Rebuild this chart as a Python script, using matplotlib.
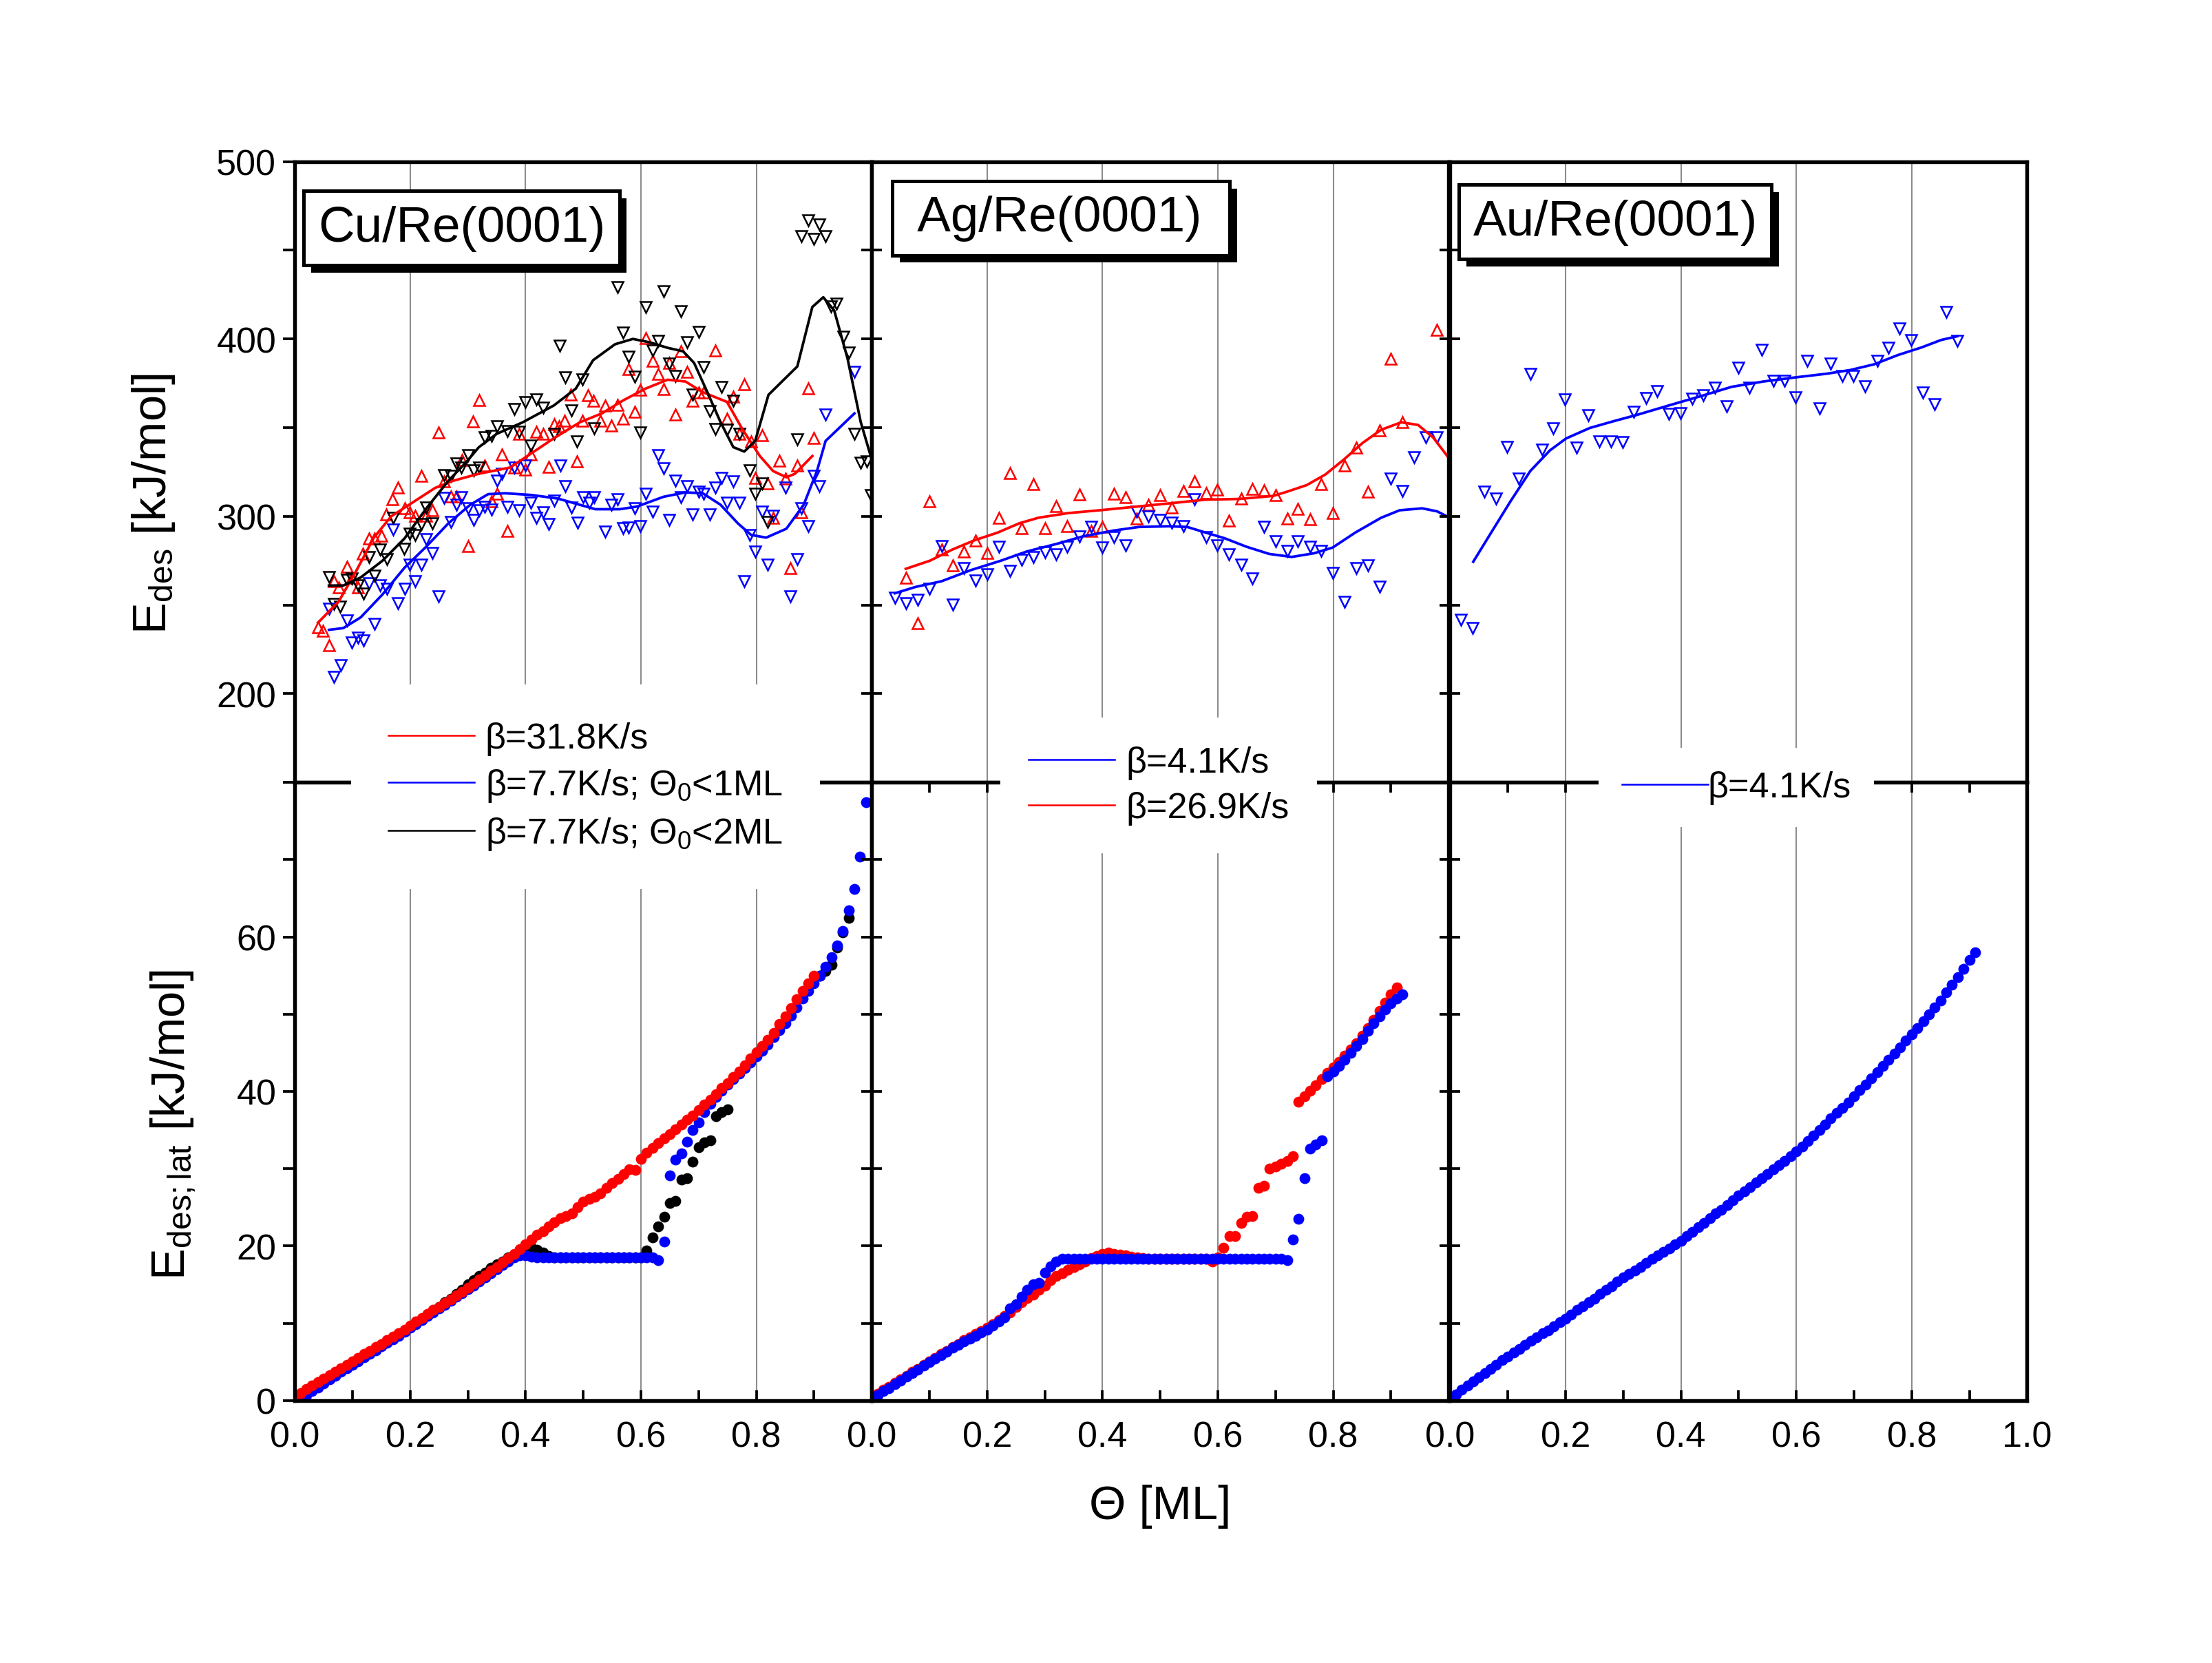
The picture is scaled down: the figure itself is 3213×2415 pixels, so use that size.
import matplotlib
matplotlib.use('Agg')
import matplotlib.pyplot as plt
import matplotlib.patheffects as pe
from matplotlib.lines import Line2D

plt.rcParams['font.family'] = ['Liberation Sans', 'DejaVu Sans']
plt.rcParams['mathtext.fontset'] = 'custom'
plt.rcParams['mathtext.rm'] = 'Liberation Sans'
plt.rcParams['mathtext.it'] = 'Liberation Sans:italic'
plt.rcParams['mathtext.bf'] = 'Liberation Sans:bold'

# ---------------- top row: E_des vs coverage ----------------
# Cu/Re(0001), beta = 31.8 K/s (up triangles + smoothed line)
cu_red_tx = [0.040, 0.049, 0.059, 0.068, 0.076, 0.090, 0.099, 0.110, 0.118, 0.128, 0.138, 0.150, 0.158, 0.169,
             0.179, 0.190, 0.199, 0.209, 0.219, 0.228, 0.238, 0.249, 0.259, 0.270, 0.280, 0.290, 0.300, 0.309,
             0.319, 0.329, 0.341, 0.350, 0.359, 0.369, 0.380, 0.389, 0.399, 0.409, 0.418, 0.430, 0.440, 0.449,
             0.458, 0.468, 0.478, 0.489, 0.499, 0.508, 0.517, 0.529, 0.538, 0.549, 0.559, 0.569, 0.578, 0.589,
             0.599, 0.608, 0.620, 0.630, 0.639, 0.649, 0.660, 0.669, 0.680, 0.690, 0.700, 0.709, 0.729, 0.749,
             0.760, 0.770, 0.779, 0.791, 0.798, 0.810, 0.820, 0.829, 0.840, 0.850, 0.859, 0.871, 0.878, 0.890,
             0.899]
cu_red_ty = [237.4, 235.3, 227.5, 263.3, 260.1, 271.7, 265.4, 260.1, 279.1, 287.5, 287.5, 289.2, 301.2, 309.7,
             316.4, 304.4, 302.3, 300.2, 322.7, 300.2, 303.3, 347.2, 319.6, 311.1, 311.1, 331.8, 283.3, 353.3,
             365.5, 328.6, 308.6, 312.8, 334.9, 291.8, 327.6, 346.6, 326.5, 334.9, 347.6, 346.6, 328.0, 351.8,
             350.8, 353.9, 368.7, 330.8, 353.9, 368.1, 365.1, 353.7, 362.4, 351.2, 362.8, 355.0, 382.8, 358.8,
             371.4, 400.3, 387.7, 380.3, 371.9, 386.6, 357.5, 392.9, 381.3, 365.1, 369.7, 369.7, 393.4, 355.0,
             367.6, 346.6, 374.4, 342.3, 321.7, 345.9, 318.7, 299.1, 331.4, 321.3, 270.7, 328.6, 302.3, 372.3,
             344.0]
cu_red_cx = [0.040, 0.076, 0.106, 0.137, 0.167, 0.198, 0.243, 0.274, 0.319, 0.373, 0.403, 0.449, 0.494, 0.532,
             0.570, 0.608, 0.646, 0.677, 0.707, 0.749, 0.776, 0.806, 0.829, 0.852, 0.867, 0.897]
cu_red_cy = [240, 252, 269, 288, 300, 306.5, 316, 320, 324, 327.5, 334, 344, 353, 358, 365.5, 372, 377, 376, 370,
             364.5, 349, 334, 325.5, 322, 324, 334]

# Cu/Re(0001), beta = 7.7 K/s, Theta0 < 1 ML
cu_blue_tx = [0.059, 0.068, 0.080, 0.090, 0.099, 0.109, 0.119, 0.129, 0.138, 0.148, 0.160, 0.170, 0.179, 0.190,
              0.199, 0.209, 0.219, 0.228, 0.238, 0.249, 0.259, 0.270, 0.280, 0.289, 0.300, 0.310, 0.319, 0.329,
              0.341, 0.350, 0.359, 0.369, 0.380, 0.389, 0.399, 0.409, 0.418, 0.430, 0.440, 0.449, 0.460, 0.469,
              0.479, 0.490, 0.500, 0.510, 0.519, 0.538, 0.549, 0.559, 0.569, 0.579, 0.589, 0.599, 0.608, 0.620,
              0.630, 0.639, 0.649, 0.660, 0.669, 0.680, 0.690, 0.700, 0.709, 0.719, 0.729, 0.739, 0.749, 0.760,
              0.770, 0.779, 0.789, 0.798, 0.810, 0.820, 0.829, 0.850, 0.859, 0.871, 0.878, 0.890, 0.899, 0.909,
              0.920, 0.970]
cu_blue_ty = [247.9, 209.5, 215.9, 241.2, 228.9, 231.7, 230.0, 262.2, 239.5, 261.2, 259.1, 292.4, 251.1, 259.1,
              272.8, 263.3, 272.8, 287.1, 279.5, 254.9, 310.3, 297.0, 306.5, 310.7, 304.4, 298.1, 303.3, 305.5,
              303.8, 320.2, 323.8, 305.5, 327.6, 303.3, 328.6, 307.6, 299.1, 302.3, 295.5, 309.0, 328.6, 317.1,
              304.8, 296.4, 310.7, 307.6, 310.7, 291.3, 306.5, 309.7, 293.2, 293.9, 304.4, 294.3, 312.8, 302.7,
              334.3, 327.0, 298.1, 320.2, 310.7, 317.1, 301.2, 313.9, 312.8, 301.2, 316.4, 321.7, 307.6, 319.6,
              307.6, 263.3, 289.6, 280.2, 302.7, 272.8, 300.2, 316.4, 254.9, 275.9, 304.4, 294.3, 323.0, 317.1,
              357.5, 381.6]
cu_blue_cx = [0.059, 0.084, 0.114, 0.152, 0.190, 0.228, 0.266, 0.304, 0.335, 0.365, 0.411, 0.456, 0.494, 0.521,
              0.563, 0.593, 0.639, 0.677, 0.707, 0.738, 0.768, 0.791, 0.817, 0.852, 0.882, 0.905, 0.920, 0.970]
cu_blue_cy = [236, 237, 243, 256, 271, 283, 296, 306.5, 312.5, 313, 312, 310, 306.5, 304, 304, 305.5, 311, 313.5,
              313, 306.5, 296, 289.5, 288, 293, 306.5, 325.5, 342.5, 358]

# Cu/Re(0001), beta = 7.7 K/s, Theta0 < 2 ML
cu_black_tx = [0.059, 0.068, 0.078, 0.090, 0.099, 0.109, 0.119, 0.129, 0.138, 0.148, 0.160, 0.170, 0.189, 0.199,
               0.209, 0.219, 0.228, 0.238, 0.259, 0.270, 0.280, 0.289, 0.300, 0.310, 0.319, 0.329, 0.341, 0.350,
               0.369, 0.380, 0.389, 0.399, 0.409, 0.418, 0.430, 0.449, 0.459, 0.469, 0.479, 0.489, 0.499, 0.519,
               0.559, 0.569, 0.579, 0.589, 0.599, 0.608, 0.620, 0.630, 0.639, 0.649, 0.660, 0.669, 0.680, 0.690,
               0.700, 0.709, 0.719, 0.729, 0.739, 0.749, 0.760, 0.770, 0.789, 0.798, 0.810, 0.820, 0.871, 0.878,
               0.890, 0.899, 0.909, 0.920, 0.929, 0.939, 0.951, 0.960, 0.970, 0.981, 0.991, 0.998]
cu_black_ty = [265.8, 250.6, 249.2, 264.4, 264.8, 261.2, 256.3, 277.0, 266.5, 281.2, 275.9, 299.1, 281.6, 290.1,
               289.6, 295.5, 305.0, 296.0, 323.4, 322.9, 329.7, 327.6, 334.3, 325.9, 327.6, 344.4, 345.5, 350.8,
               348.0, 360.3, 347.6, 364.5, 339.8, 366.0, 361.3, 346.6, 396.1, 378.2, 359.8, 342.3, 377.1, 349.7,
               429.2, 403.5, 389.8, 378.6, 347.2, 417.8, 393.4, 398.8, 426.7, 386.2, 379.2, 415.7, 398.2, 368.7,
               403.9, 384.1, 359.2, 349.3, 372.9, 348.7, 365.1, 346.6, 325.9, 312.8, 318.7, 297.0, 343.4, 457.9,
               466.7, 456.2, 464.6, 457.9, 418.2, 419.9, 401.4, 392.5, 346.6, 330.1, 330.8, 311.8]
cu_black_cx = [0.059, 0.084, 0.114, 0.152, 0.190, 0.228, 0.266, 0.297, 0.319, 0.350, 0.395, 0.449, 0.487, 0.517,
               0.555, 0.586, 0.616, 0.646, 0.673, 0.692, 0.715, 0.738, 0.760, 0.779, 0.798, 0.821, 0.871, 0.897,
               0.916, 0.935, 0.958, 0.981, 1.000]
cu_black_cy = [261, 261, 265.5, 275, 287.5, 304.5, 320, 330.5, 339, 346.5, 353, 362.5, 372, 388, 397, 400, 398,
               395, 393, 386.5, 370, 353, 339, 336.5, 342.5, 368.5, 384.5, 418, 423.5, 416, 389, 353, 332]

# Ag/Re(0001), beta = 26.9 K/s
ag_red_tx = [0.059, 0.080, 0.100, 0.121, 0.140, 0.160, 0.180, 0.200, 0.220, 0.240, 0.260, 0.280, 0.300, 0.320,
             0.339, 0.360, 0.380, 0.400, 0.420, 0.440, 0.459, 0.480, 0.500, 0.520, 0.540, 0.560, 0.580, 0.599,
             0.619, 0.640, 0.660, 0.680, 0.700, 0.720, 0.739, 0.760, 0.779, 0.799, 0.820, 0.840, 0.860, 0.880,
             0.900, 0.920, 0.980]
ag_red_ty = [265.5, 239.8, 308.3, 281.3, 272.5, 280.3, 286.2, 279.2, 299.2, 324.3, 293.3, 318.0, 293.5, 305.6,
             294.6, 312.5, 291.9, 294.0, 312.9, 310.8, 298.8, 306.6, 311.9, 304.9, 314.4, 319.7, 313.3, 315.0,
             297.5, 310.2, 315.5, 314.6, 311.9, 298.8, 304.1, 298.2, 318.2, 301.8, 328.7, 338.9, 314.0, 348.3,
             388.8, 353.0, 405.0]
ag_red_cx = [0.059, 0.101, 0.140, 0.179, 0.218, 0.256, 0.289, 0.340, 0.398, 0.463, 0.528, 0.579, 0.637, 0.696,
             0.721, 0.754, 0.786, 0.818, 0.851, 0.883, 0.918, 0.947, 0.973, 1.000]
ag_red_cy = [270.4, 275, 281.3, 286.6, 290.8, 296.1, 299.2, 301.8, 303.5, 305.6, 307.7, 309.4, 309.8, 311.5, 314,
             317.6, 323.5, 331.9, 341.4, 348.8, 353, 351.5, 344.5, 333]

# Ag/Re(0001), beta = 4.1 K/s
ag_blue_tx = [0.040, 0.059, 0.080, 0.100, 0.121, 0.140, 0.160, 0.180, 0.200, 0.220, 0.240, 0.260, 0.280, 0.300,
              0.320, 0.339, 0.360, 0.380, 0.400, 0.420, 0.440, 0.459, 0.480, 0.500, 0.520, 0.540, 0.560, 0.580,
              0.599, 0.619, 0.640, 0.660, 0.680, 0.700, 0.720, 0.739, 0.760, 0.779, 0.799, 0.820, 0.840, 0.860,
              0.880, 0.900, 0.920, 0.940, 0.960, 0.980]
ag_blue_ty = [254.3, 251.2, 252.9, 259.2, 283.4, 250.3, 270.8, 263.8, 267.2, 282.8, 269.1, 275.6, 277.1, 279.8,
              278.6, 283.0, 288.7, 294.0, 282.4, 288.3, 283.8, 302.8, 299.9, 297.8, 296.5, 294.4, 309.8, 288.3,
              283.8, 278.6, 272.9, 264.9, 294.0, 285.9, 280.7, 285.9, 283.0, 280.7, 268.0, 251.8, 270.8, 272.5,
              260.2, 321.4, 314.4, 333.4, 344.6, 344.6]
ag_blue_cx = [0.040, 0.076, 0.121, 0.172, 0.224, 0.269, 0.321, 0.366, 0.418, 0.463, 0.515, 0.547, 0.579, 0.612,
              0.650, 0.689, 0.728, 0.767, 0.799, 0.838, 0.883, 0.915, 0.954, 0.980, 1.000]
ag_blue_cy = [256.6, 260.2, 263.4, 269.7, 275, 280.2, 284.5, 288.7, 291.9, 294, 294.4, 294, 290.8, 287.6, 282.8,
              278.8, 277.1, 279.2, 282.4, 290.8, 299.2, 303.4, 304.5, 302.8, 299.5]

# Au/Re(0001), beta = 4.1 K/s
au_tx = [0.019, 0.039, 0.059, 0.079, 0.099, 0.119, 0.139, 0.159, 0.179, 0.199, 0.219, 0.239, 0.259, 0.279,
         0.299, 0.318, 0.339, 0.359, 0.379, 0.399, 0.419, 0.439, 0.459, 0.479, 0.499, 0.519, 0.540, 0.560,
         0.579, 0.599, 0.619, 0.640, 0.660, 0.680, 0.699, 0.719, 0.740, 0.760, 0.779, 0.799, 0.819, 0.840,
         0.860, 0.879]
au_ty = [241.7, 237.0, 314.0, 310.2, 339.3, 321.2, 380.2, 337.6, 349.8, 366.1, 338.9, 357.0, 342.4, 342.4,
         341.8, 359.1, 366.7, 370.5, 357.6, 358.3, 366.3, 368.4, 372.6, 362.1, 383.6, 372.6, 393.7, 376.2,
         376.2, 367.1, 387.8, 360.8, 386.1, 379.3, 379.3, 373.4, 387.8, 394.9, 405.7, 399.2, 369.6, 363.3,
         415.2, 398.8]
au_cx = [0.040, 0.071, 0.105, 0.139, 0.173, 0.201, 0.242, 0.283, 0.324, 0.379, 0.434, 0.488, 0.543, 0.598,
         0.653, 0.694, 0.735, 0.776, 0.817, 0.851, 0.879]
au_cy = [274.4, 290.8, 308.7, 325.6, 337.2, 343.9, 349.8, 353.6, 357.2, 362.5, 367.7, 373, 376, 378.3, 380.4,
         382.5, 385.7, 390.9, 395.2, 399.4, 401.5]

# ---------------- bottom row: E_des;lat vs coverage ----------------
theta = [0.00, 0.01, 0.02, 0.03, 0.04, 0.05, 0.06, 0.07, 0.08, 0.09,
         0.10, 0.11, 0.12, 0.13, 0.14, 0.15, 0.16, 0.17, 0.18, 0.19,
         0.20, 0.21, 0.22, 0.23, 0.24, 0.25, 0.26, 0.27, 0.28, 0.29,
         0.30, 0.31, 0.32, 0.33, 0.34, 0.35, 0.36, 0.37, 0.38, 0.39,
         0.40, 0.41, 0.42, 0.43, 0.44, 0.45, 0.46, 0.47, 0.48, 0.49,
         0.50, 0.51, 0.52, 0.53, 0.54, 0.55, 0.56, 0.57, 0.58, 0.59,
         0.60, 0.61, 0.62, 0.63, 0.64, 0.65, 0.66, 0.67, 0.68, 0.69,
         0.70, 0.71, 0.72, 0.73, 0.74, 0.75, 0.76, 0.77, 0.78, 0.79,
         0.80, 0.81, 0.82, 0.83, 0.84, 0.85, 0.86, 0.87, 0.88, 0.89,
         0.90, 0.91, 0.92, 0.93, 0.94, 0.95, 0.96, 0.97, 0.98, 0.99]

cu_lat_red = [0.5, 1.0, 1.5, 1.9, 2.4, 2.8, 3.3, 3.7, 4.2, 4.6,
              5.1, 5.5, 6.0, 6.4, 6.9, 7.3, 7.8, 8.3, 8.7, 9.2,
              9.7, 10.2, 10.7, 11.2, 11.7, 12.1, 12.6, 13.1, 13.6, 14.1,
              14.6, 15.1, 15.7, 16.2, 16.8, 17.3, 17.9, 18.4, 19.0, 19.6,
              20.2, 20.8, 21.5, 21.9, 22.5, 23.1, 23.6, 23.9, 24.2, 25.0,
              25.7, 26.1, 26.4, 26.8, 27.5, 28.1, 28.7, 29.3, 29.9, 29.8,
              31.3, 32.1, 32.7, 33.3, 33.9, 34.5, 35.1, 35.7, 36.3, 36.9,
              37.6, 38.3, 38.9, 39.6, 40.4, 41.1, 41.9, 42.6, 43.4, 44.3,
              45.1, 45.9, 46.7, 47.6, 48.7, 49.7, 50.8, 51.9, 53.0, 54.0,
              55.0]
cu_lat_blue = [-0.3, 0.2, 0.7, 1.2, 1.7, 2.2, 2.7, 3.2, 3.7, 4.2,
               4.6, 5.1, 5.6, 6.0, 6.5, 7.0, 7.5, 7.9, 8.4, 8.9,
               9.4, 9.9, 10.4, 10.9, 11.4, 11.9, 12.4, 12.9, 13.4, 13.9,
               14.4, 14.9, 15.4, 15.9, 16.5, 17.0, 17.5, 18.0, 18.5, 18.8,
               18.8, 18.6, 18.5, 18.5, 18.5, 18.5, 18.5, 18.5, 18.5, 18.5,
               18.5, 18.5, 18.5, 18.5, 18.5, 18.5, 18.5, 18.5, 18.5, 18.5,
               18.5, 18.5, 18.5, 18.2, 20.6, 29.1, 31.2, 32.0, 33.5, 35.0,
               36.0, 37.3, 38.4, 39.3, 40.1, 40.9, 41.6, 42.3, 43.0, 43.7,
               44.5, 45.3, 46.1, 47.0, 47.9, 48.8, 49.8, 50.9, 52.0, 53.0,
               54.0, 55.0, 56.1, 57.4, 58.9, 60.8, 63.4, 66.2, 70.4, 77.4]
# black series: theta[2:76] then theta[91:97]
cu_lat_black_a = [-0.1, 1.3, 1.8, 2.3, 2.8, 3.3, 3.8, 4.3,
                  4.7, 5.2, 5.7, 6.1, 6.6, 7.1, 7.6, 8.0, 8.5, 9.0,
                  9.5, 10.0, 10.5, 11.0, 11.5, 12.1, 12.7, 13.2, 13.8, 14.3,
                  15.0, 15.6, 16.1, 16.6, 17.2, 17.6, 18.0, 18.5, 18.9, 19.3,
                  19.6, 19.8, 19.5, 19.1, 18.7, 18.5, 18.5, 18.5, 18.5, 18.5,
                  18.5, 18.5, 18.5, 18.5, 18.5, 18.5, 18.5, 18.5, 18.5, 18.5,
                  18.5, 19.4, 21.1, 22.5, 23.8, 25.6, 25.8, 28.6, 28.8, 30.9,
                  32.8, 33.4, 33.7, 36.8, 37.3, 37.7]
cu_lat_black_b = [55.0, 55.6, 56.4, 58.6, 60.6, 62.5]

ag_lat_red = [0.5, 0.9, 1.4, 1.8, 2.3, 2.7, 3.2, 3.7, 4.1, 4.6,
              5.1, 5.5, 6.0, 6.4, 6.9, 7.3, 7.8, 8.2, 8.6, 9.0,
              9.4, 9.9, 10.4, 10.9, 11.4, 12.1, 12.7, 13.3, 13.7, 14.3,
              14.9, 15.6, 16.1, 16.5, 16.9, 17.3, 17.6, 18.0, 18.4, 18.7,
              19.0, 19.1, 19.0, 18.9, 18.8, 18.6, 18.5, 18.4, 18.3, 18.3,
              18.3, 18.3, 18.3, 18.3, 18.3, 18.3, 18.3, 18.3, 18.3, 18.0,
              18.5, 19.8, 21.3, 21.3, 23.0, 23.8, 23.9, 27.5, 27.8, 30.0,
              30.3, 30.6, 31.0, 31.6, 38.7, 39.4, 40.1, 40.8, 41.6, 42.4,
              43.1, 43.8, 44.6, 45.4, 46.2, 47.2, 48.2, 49.3, 50.4, 51.5,
              52.6, 53.5]
ag_lat_blue = [0.2, 0.7, 1.2, 1.6, 2.1, 2.6, 3.1, 3.5, 4.0, 4.5,
               5.0, 5.4, 5.9, 6.3, 6.8, 7.2, 7.6, 8.0, 8.4, 8.8,
               9.2, 9.7, 10.2, 10.8, 11.9, 12.5, 13.4, 14.3, 15.0, 15.2,
               16.6, 17.4, 18.0, 18.3, 18.3, 18.3, 18.3, 18.3, 18.3, 18.3,
               18.3, 18.3, 18.3, 18.3, 18.3, 18.3, 18.3, 18.3, 18.3, 18.3,
               18.3, 18.3, 18.3, 18.3, 18.3, 18.3, 18.3, 18.3, 18.3, 18.3,
               18.3, 18.3, 18.3, 18.3, 18.3, 18.3, 18.3, 18.3, 18.3, 18.3,
               18.3, 18.3, 18.2, 20.8, 23.5, 28.8, 32.6, 33.1, 33.7, 42.0,
               42.6, 43.3, 44.1, 45.0, 45.9, 46.8, 47.8, 48.8, 49.7, 50.6,
               51.4, 52.0, 52.6]

au_lat_blue = [0.3, 0.8, 1.4, 1.9, 2.5, 3.0, 3.5, 4.1, 4.6, 5.2,
               5.7, 6.2, 6.7, 7.2, 7.7, 8.2, 8.7, 9.1, 9.6, 10.1,
               10.6, 11.1, 11.7, 12.2, 12.7, 13.2, 13.8, 14.3, 14.8, 15.4,
               15.9, 16.4, 16.8, 17.3, 17.8, 18.3, 18.8, 19.2, 19.7, 20.2,
               20.7, 21.3, 21.8, 22.4, 23.0, 23.6, 24.2, 24.7, 25.3, 25.9,
               26.5, 27.1, 27.6, 28.2, 28.8, 29.3, 29.9, 30.5, 31.0, 31.6,
               32.2, 32.9, 33.6, 34.3, 35.0, 35.7, 36.5, 37.2, 37.9, 38.6,
               39.4, 40.2, 40.9, 41.7, 42.5, 43.3, 44.1, 44.9, 45.7, 46.6,
               47.4, 48.2, 49.1, 50.0, 50.9, 51.8, 52.8, 53.8, 54.8, 55.9,
               57.0, 58.0]

panel_names = ['Cu/Re(0001)', ' Ag/Re(0001) ', 'Au/Re(0001)']
x_labels_12 = ['0.0', '0.2', '0.4', '0.6', '0.8', '']
x_labels_3 = ['0.0', '0.2', '0.4', '0.6', '0.8', '1.0']

fig = plt.figure(figsize=(10.71, 8.0533), dpi=300)
lefts = [0.1333, 0.3941, 0.6556]
w = 0.2608
tops = [fig.add_axes([l, 0.5293, w, 0.3732]) for l in lefts]
bots = [fig.add_axes([l, 0.1578, w, 0.3715]) for l in lefts]

tri = dict(ls='none', ms=3.8, mfc='none', mew=0.6)
dot = dict(ls='none', marker='o', ms=3.8, mew=0)

# top row
ax = tops[0]
ax.plot(cu_red_tx, cu_red_ty, marker='^', mec='red', **tri)
ax.plot(cu_blue_tx, cu_blue_ty, marker='v', mec='blue', **tri)
ax.plot(cu_black_tx, cu_black_ty, marker='v', mec='black', **tri)
ax.plot(cu_red_cx, cu_red_cy, color='red', lw=0.9)
ax.plot(cu_blue_cx, cu_blue_cy, color='blue', lw=0.9)
ax.plot(cu_black_cx, cu_black_cy, color='black', lw=0.9)

ax = tops[1]
ax.plot(ag_red_tx, ag_red_ty, marker='^', mec='red', **tri)
ax.plot(ag_blue_tx, ag_blue_ty, marker='v', mec='blue', **tri)
ax.plot(ag_red_cx, ag_red_cy, color='red', lw=0.9)
ax.plot(ag_blue_cx, ag_blue_cy, color='blue', lw=0.9)

ax = tops[2]
ax.plot(au_tx, au_ty, marker='v', mec='blue', **tri)
ax.plot(au_cx, au_cy, color='blue', lw=0.9)

# bottom row
ax = bots[0]
ax.plot(theta[2:76], cu_lat_black_a, color='black', **dot)
ax.plot(theta[91:97], cu_lat_black_b, color='black', **dot)
ax.plot(theta, cu_lat_blue, color='blue', **dot)
ax.plot(theta[:91], cu_lat_red, color='red', **dot)

ax = bots[1]
ax.plot(theta[:92], ag_lat_red, color='red', **dot)
ax.plot(theta[:93], ag_lat_blue, color='blue', **dot)

ax = bots[2]
ax.plot(theta[:92], au_lat_blue, color='blue', **dot)

for i, ax in enumerate(tops):
    ax.set_xlim(0, 1.0)
    ax.set_ylim(150, 500)
    ax.set_xticks([0.2, 0.4, 0.6, 0.8])
    ax.tick_params(axis='x', which='both', bottom=False, top=False, labelbottom=False)
    ax.set_yticks([200, 300, 400, 500])
    ax.set_yticks([150, 250, 350, 450], minor=True)
    ax.grid(axis='x', color='0.55', lw=0.5)
    ax.set_axisbelow(True)
    t = ax.text([0.289, 0.328, 0.286][i], [0.893, 0.909, 0.903][i], panel_names[i],
                transform=ax.transAxes, ha='center', va='center', fontsize=17.5, zorder=10,
                bbox=dict(boxstyle='square,pad=0.28', fc='white', ec='black', lw=1.2))
    t.get_bbox_patch().set_path_effects([pe.withSimplePatchShadow(offset=(2.6, -2.6),
                                                                  shadow_rgbFace='black', alpha=1.0)])

for i, ax in enumerate(bots):
    ax.set_xlim(0, 1.0)
    ax.set_ylim(0, 80)
    ax.set_xticks([0, 0.2, 0.4, 0.6, 0.8, 1.0])
    ax.set_xticklabels(x_labels_3 if i == 2 else x_labels_12)
    ax.set_xticks([0.1, 0.3, 0.5, 0.7, 0.9], minor=True)
    ax.tick_params(axis='x', which='both', direction='in', top=True, bottom=True, length=3.5,
                   width=0.9, labelsize=12.5, pad=7)
    ax.set_yticks([0, 20, 40, 60, 80])
    ax.set_yticks([10, 30, 50, 70], minor=True)
    ax.grid(axis='x', color='0.55', lw=0.5)
    ax.set_axisbelow(True)

for i, ax in enumerate(tops + bots):
    for s in ax.spines.values():
        s.set_linewidth(1.3)
    col = i % 3
    if col == 0:
        ax.tick_params(axis='y', which='both', direction='out', length=4, width=0.9,
                       labelsize=12.5, pad=2.5)
    else:
        ax.tick_params(axis='y', which='both', direction='inout', length=7, width=0.9,
                       labelleft=False)

bots[0].set_yticklabels(['0', '20', '40', '60', ''])

tops[0].set_ylabel(r'E$_{\mathrm{des}}$ [kJ/mol]', fontsize=16.5)
tops[0].yaxis.set_label_coords(-0.205, 0.45)
bots[0].set_ylabel(r'E$_{\mathrm{des;lat}}$ [kJ/mol]', fontsize=16.5)
bots[0].yaxis.set_label_coords(-0.169, 0.447)
bots[1].set_xlabel('Θ [ML]', fontsize=16.5)
bots[1].xaxis.set_label_coords(0.5, -0.135)

# legends (white boxes that sit over the boundary between rows)
leg_kw = dict(loc='center', frameon=True, fancybox=False, facecolor='white', edgecolor='white',
              framealpha=1.0, fontsize=12.5, handlelength=2.4, labelspacing=0.33)
h_red = Line2D([], [], color='red', lw=0.6)
h_blue = Line2D([], [], color='blue', lw=0.6)
h_black = Line2D([], [], color='black', lw=0.6)
fig.legend([h_red, h_blue, h_black],
           ['β=31.8K/s', r'β=7.7K/s; Θ$_\mathrm{0}$<1ML', r'β=7.7K/s; Θ$_\mathrm{0}$<2ML'],
           bbox_to_anchor=(0.2647, 0.5267), handletextpad=0.3, borderpad=1.0, **leg_kw)
fig.legend([h_blue, h_red], ['β=4.1K/s', 'β=26.9K/s'],
           bbox_to_anchor=(0.5239, 0.5276), handletextpad=0.3, borderpad=0.75, **leg_kw)
fig.legend([h_blue], ['β=4.1K/s'],
           bbox_to_anchor=(0.785, 0.5263), handletextpad=0.0, borderpad=0.6, **leg_kw)

fig.savefig('out.png', dpi=300)
